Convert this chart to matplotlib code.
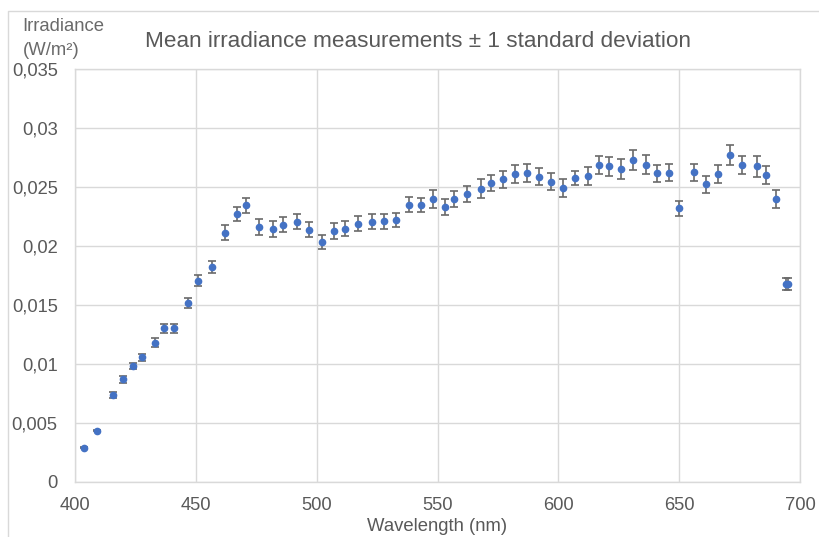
import matplotlib
matplotlib.use('Agg')
import matplotlib.pyplot as plt
from matplotlib.lines import Line2D

# wavelengths (nm), mean irradiance (W/m2) and std dev
wavelength = [403.7, 409.0, 415.9, 420.0, 423.9, 427.9, 433.0, 437.0, 441.0, 446.9,
              450.9, 456.8, 461.9, 466.9, 470.9, 476.0, 482.0, 485.9, 491.9, 496.9,
              502.0, 507.1, 511.9, 517.0, 522.9, 527.9, 533.0, 538.0, 543.1, 548.0,
              552.9, 557.0, 562.2, 568.0, 572.1, 577.0, 582.0, 587.0, 592.0, 597.0,
              601.9, 607.0, 612.1, 617.0, 621.1, 626.0, 631.0, 636.1, 641.0, 645.9,
              650.0, 656.1, 661.0, 666.0, 671.1, 675.9, 682.0, 686.0, 690.0, 694.3, 695.2]
irradiance = [0.00292, 0.00436, 0.00735, 0.00870, 0.00982, 0.01058, 0.01182, 0.01303, 0.01303, 0.01520,
              0.01706, 0.01824, 0.02114, 0.02274, 0.02345, 0.02159, 0.02145, 0.02182, 0.02207, 0.02139,
              0.02032, 0.02131, 0.02145, 0.02190, 0.02207, 0.02209, 0.02221, 0.02351, 0.02345, 0.02401,
              0.02331, 0.02399, 0.02438, 0.02486, 0.02534, 0.02564, 0.02610, 0.02621, 0.02587, 0.02545,
              0.02492, 0.02576, 0.02593, 0.02686, 0.02674, 0.02652, 0.02728, 0.02688, 0.02615, 0.02621,
              0.02319, 0.02623, 0.02522, 0.02610, 0.02773, 0.02686, 0.02677, 0.02601, 0.02399, 0.01675, 0.01681]
std_dev = [0.00008, 0.00008, 0.00025, 0.00027, 0.00028, 0.00030, 0.00035, 0.00040, 0.00040, 0.00042,
           0.00046, 0.00050, 0.00060, 0.00058, 0.00065, 0.00066, 0.00065, 0.00060, 0.00063, 0.00062,
           0.00060, 0.00068, 0.00063, 0.00066, 0.00065, 0.00066, 0.00062, 0.00065, 0.00060, 0.00076,
           0.00068, 0.00069, 0.00069, 0.00079, 0.00070, 0.00075, 0.00077, 0.00076, 0.00070, 0.00070,
           0.00075, 0.00063, 0.00075, 0.00076, 0.00079, 0.00085, 0.00082, 0.00082, 0.00069, 0.00073,
           0.00066, 0.00069, 0.00075, 0.00075, 0.00087, 0.00080, 0.00089, 0.00077, 0.00073, 0.00050, 0.00050]

x_ticks = [400, 450, 500, 550, 600, 650, 700]
y_ticks = [0, 0.005, 0.01, 0.015, 0.02, 0.025, 0.03, 0.035]
y_tick_labels = ['0', '0,005', '0,01', '0,015', '0,02', '0,025', '0,03', '0,035']

plt.rcParams['font.family'] = ['Liberation Sans', 'DejaVu Sans']
text_col = '#595959'
grid_col = '#d9d9d9'

fig = plt.figure(figsize=(8.19, 5.37), dpi=100)
ax = fig.add_axes([75 / 819, 55 / 537, 725 / 819, 413 / 537])

ax.errorbar(wavelength, irradiance, yerr=std_dev, fmt='o', color='#4472C4',
            markersize=4.5, ecolor='#6a6a6a', elinewidth=1.2, capsize=3, capthick=1.2,
            zorder=3)

ax.set_xlim(400, 700)
ax.set_ylim(0, 0.035)
ax.set_xticks(x_ticks)
ax.set_yticks(y_ticks)
ax.set_yticklabels(y_tick_labels)
ax.grid(True, color=grid_col, linewidth=1.0)
ax.set_axisbelow(True)
for s in ax.spines.values():
    s.set_color(grid_col)
    s.set_linewidth(1.0)
ax.tick_params(axis='both', length=0, labelsize=13.2, labelcolor=text_col)
ax.tick_params(axis='x', pad=10.5)
ax.tick_params(axis='y', pad=12.5)

ax.set_xlabel('Wavelength (nm)', fontsize=13.3, color=text_col, labelpad=3)

fig.text(0.51, 1 - 46.7 / 537, 'Mean irradiance measurements ± 1 standard deviation',
         ha='center', va='baseline', fontsize=16.2, color=text_col)
fig.text(22.5 / 819, 1 - 31 / 537, 'Irradiance', ha='left', va='baseline',
         fontsize=13.3, color='#6a6a6a')
fig.text(22.5 / 819, 1 - 55 / 537, '(W/m²)', ha='left', va='baseline',
         fontsize=13.3, color='#6a6a6a')

# outer chart frame
fig.add_artist(Line2D([8.3 / 819, 8.3 / 819, 1.0], [0, 1 - 10.7 / 537, 1 - 10.7 / 537],
                      transform=fig.transFigure, color=grid_col, linewidth=1.0))

plt.savefig('out.png', dpi=100)
plt.close()
